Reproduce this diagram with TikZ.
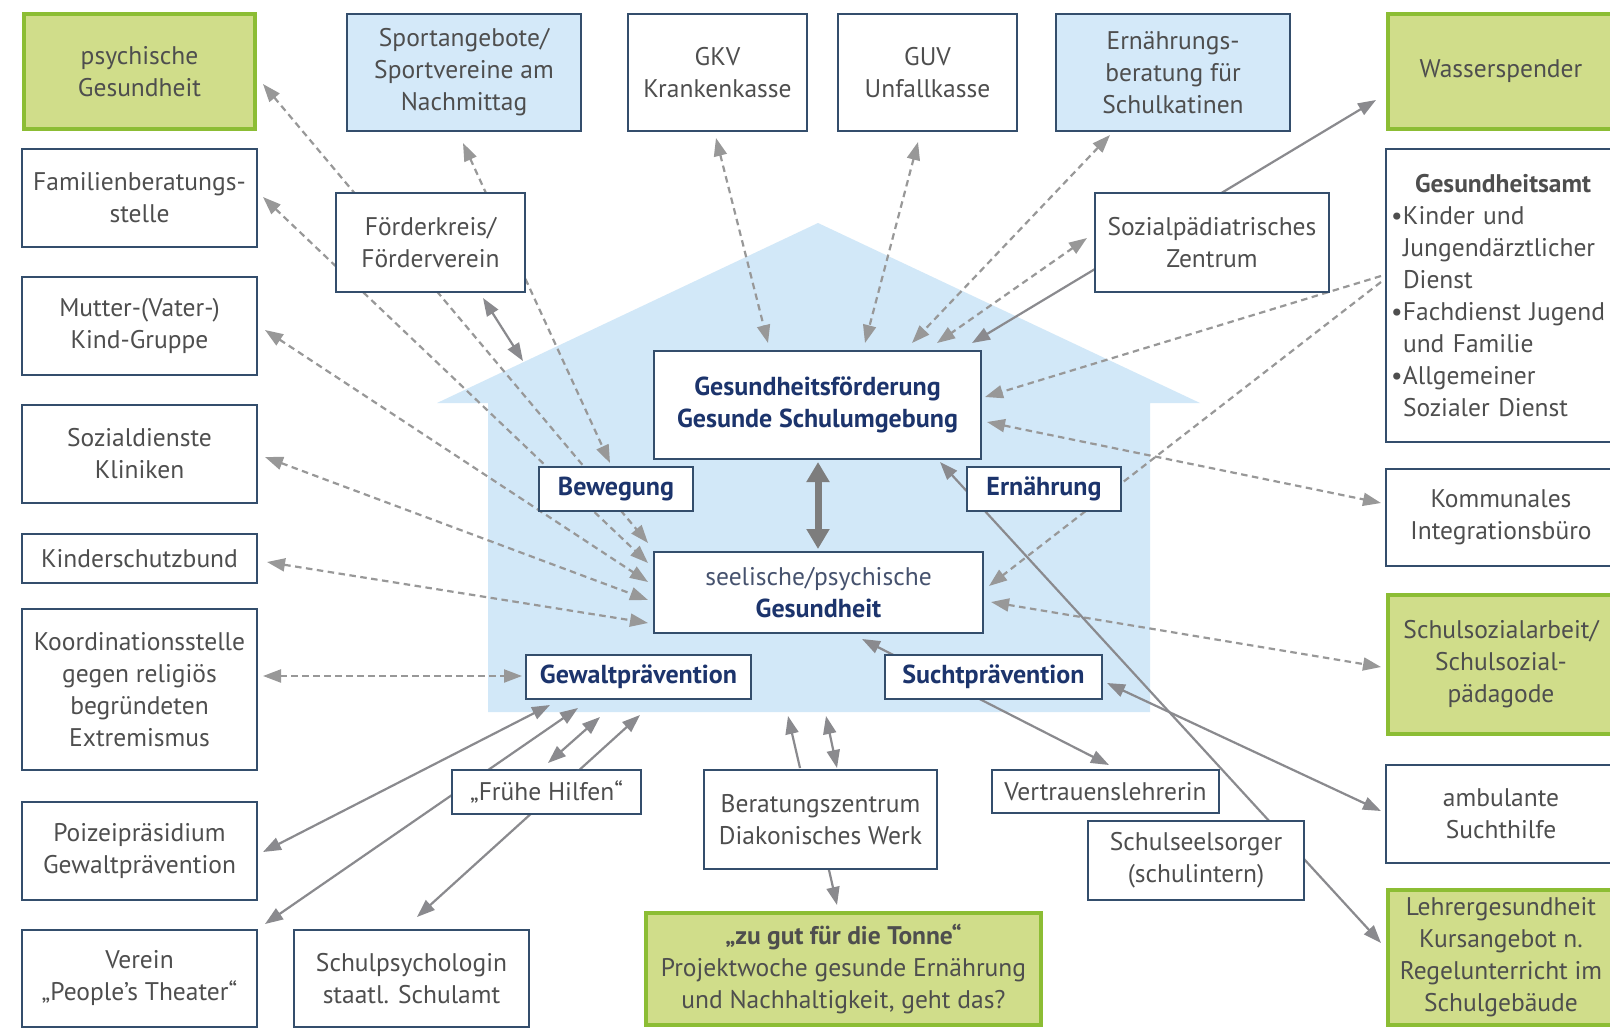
\documentclass[tikz,border=0pt]{standalone}
\usepackage{fontspec}
\setmainfont{PT Sans}
\usetikzlibrary{arrows.meta,calc}
\pgfdeclarelayer{bgw}
\pgfdeclarelayer{house}
\pgfdeclarelayer{lines}
\pgfsetlayers{bgw,house,lines,main}
\definecolor{txt}{RGB}{78,78,78}
\definecolor{navy}{RGB}{28,52,108}
\definecolor{bordc}{RGB}{52,78,108}
\definecolor{boxblue}{RGB}{212,233,249}
\definecolor{housec}{RGB}{210,232,248}
\definecolor{grfill}{RGB}{208,221,138}
\definecolor{grbord}{RGB}{140,189,52}
\definecolor{arrg}{RGB}{152,152,152}
\definecolor{arrs}{RGB}{138,138,142}
\definecolor{arrk}{RGB}{125,125,125}
\definecolor{sgray}{RGB}{70,82,110}
\tikzset{
  tp/.tip={Triangle[length=18pt,width=13pt]},
  tpk/.tip={Triangle[length=20pt,width=22pt]},
  mw/.style={minimum width=#1pt},
  mh/.style={minimum height=#1pt},
  box/.style={draw=bordc, line width=1.4pt, fill=white, text=txt, align=center,
    inner sep=0pt, outer sep=0pt, font=\fontsize{25.5}{32}\selectfont},
  bluebox/.style={box, fill=boxblue},
  greenbox/.style={box, fill=grfill, draw=grbord, line width=4pt},
  innerbox/.style={box, text=navy, font=\fontsize{26}{32}\selectfont\bfseries},
  dsh/.style={draw=arrg, line width=2.2pt, dash pattern=on 6.5pt off 4.5pt},
  sol/.style={draw=arrs, line width=2.2pt},
}
\begin{document}
\begin{tikzpicture}[x=1pt,y=-1pt]
\useasboundingbox (0,0) rectangle (1610,1031);
\begin{pgfonlayer}{bgw}
\fill[white] (0,0) rectangle (1610,1031);
\end{pgfonlayer}

% house
\begin{pgfonlayer}{house}
\fill[housec] (437,403) -- (818,223) -- (1200,403) -- (1150,403) -- (1150,712)
  -- (488,712) -- (488,403) -- cycle;
\end{pgfonlayer}
\coordinate (roofpt) at (523,361);
\coordinate (hb1) at (788,716);
\coordinate (hb2) at (826,716);

% left column
\node[greenbox, mw=231, mh=115] (psy) at (139.5,71.5) {psychische\\Gesundheit};
\node[box, mw=235, mh=98] (fam) at (139.5,198) {Familienberatungs-\\stelle};
\node[box, mw=235, mh=98] (mut) at (139.5,326) {Mutter-(Vater-)\\Kind-Gruppe};
\node[box, mw=235, mh=98] (soz) at (139.5,454) {Sozialdienste\\Kliniken};
\node[box, mw=235, mh=49] (kin) at (139.5,558.5) {Kinderschutzbund};
\node[box, mw=235, mh=161] (koo) at (139.5,689.5) {Koordinationsstelle\\gegen religiös\\begründeten\\Extremismus};
\node[box, mw=235, mh=98] (pol) at (139.5,851) {Poizeipräsidium\\Gewaltprävention};
\node[box, mw=235, mh=97] (ver) at (139.5,978.5) {Verein\\„People’s Theater“};
\node[box, mw=235, mh=97] (spsy) at (411.5,978.5) {Schulpsychologin\\staatl. Schulamt};

% top row
\node[bluebox, mw=234, mh=117] (spo) at (464,72.5) {Sportangebote/\\Sportvereine am\\Nachmittag};
\node[box, mw=179, mh=117] (gkv) at (717.5,72.5) {GKV\\Krankenkasse};
\node[box, mw=179, mh=117] (guv) at (927.5,72.5) {GUV\\Unfallkasse};
\node[bluebox, mw=234, mh=117] (ebe) at (1173,72.5) {Ernährungs-\\beratung für\\Schulkatinen};
\node[greenbox, mw=226, mh=115] (was) at (1501,71.5) {Wasserspender};

% middle
\node[box, mw=189, mh=99] (foe) at (430.5,242.5) {Förderkreis/\\Förderverein};
\node[box, mw=234, mh=99] (szp) at (1212,242.5) {Sozialpädiatrisches\\Zentrum};
\node[innerbox, mw=327, mh=108] (gf) at (817.5,405) {Gesundheitsförderung\\Gesunde Schulumgebung};
\node[innerbox, mw=154, mh=44] (bew) at (616,489) {Bewegung};
\node[innerbox, mw=154, mh=44] (ernh) at (1044,489) {Ernährung};
\node[box, mw=329, mh=81] (see) at (818.5,592.5) {{\color{sgray}seelische/psychische}\\{\color{navy}\fontsize{26}{32}\selectfont\bfseries Gesundheit}};
\node[innerbox, mw=225, mh=44] (gew) at (638.5,677) {Gewaltprävention};
\node[innerbox, mw=217, mh=44] (suc) at (993.5,677) {Suchtprävention};
\node[box, mw=189, mh=44] (fru) at (546.5,792) {„Frühe Hilfen“};
\node[box, mw=233, mh=99] (ber) at (820.5,819.5) {Beratungszentrum\\Diakonisches Werk};
\node[greenbox, mw=395, mh=112] (zug) at (843.5,969) {\textbf{„zu gut für die Tonne“}\\Projektwoche gesunde Ernährung\\und Nachhaltigkeit, geht das?};
\node[box, mw=227, mh=43] (vtl) at (1105.5,791.5) {Vertrauenslehrerin};
\node[box, mw=216, mh=79] (sse) at (1196,860.5) {Schulseelsorger\\(schulintern)};

% right column
\node[box, mw=230, mh=293, align=left, text width=220pt, inner xsep=5pt] (gam) at (1501,295.5)
  {\hspace*{24pt}\textbf{Gesundheitsamt}\\
   \makebox[12pt][l]{\textbullet}Kinder und\\
   \hspace*{12pt}Jungendärztlicher\\
   \hspace*{12pt}Dienst\\
   \makebox[12pt][l]{\textbullet}Fachdienst Jugend\\
   \hspace*{12pt}und Familie\\
   \makebox[12pt][l]{\textbullet}Allgemeiner\\
   \hspace*{12pt}Sozialer Dienst};
\node[box, mw=230, mh=97] (kom) at (1501,517.5) {Kommunales\\Integrationsbüro};
\node[greenbox, mw=226, mh=139] (ssa) at (1501,664.5) {Schulsozialarbeit/\\Schulsozial-\\pädagode};
\node[box, mw=230, mh=98] (amb) at (1501,814) {ambulante\\Suchthilfe};
\node[greenbox, mw=226, mh=135] (leh) at (1501,957.5) {Lehrergesundheit\\Kursangebot n.\\Regelunterricht im\\Schulgebäude};

% connectors
\begin{pgfonlayer}{lines}
\draw[dsh, tp-tp] ($(psy.east)+(8,12.5)$) -- ($(see.north west)+(-6,-9)$);
\draw[dsh, tp-tp] ($(fam.east)+(6,-1)$) -- ($(see.north west)+(-6,11)$);
\draw[dsh, tp-tp] ($(mut.east)+(8,4)$) -- ($(see.north west)+(-6,30)$);
\draw[dsh, tp-tp] ($(soz.east)+(8,3)$) -- ($(see.north west)+(-6,48)$);
\draw[dsh, tp-tp] ($(kin.east)+(10,3.5)$) -- ($(see.north west)+(-6,71)$);
\draw[dsh, tp-tp] ($(koo.east)+(6,-13.5)$) -- ($(gew.west)+(-4,-1)$);
\draw[dsh, tp-tp] ($(spo.south)+(-1,12)$) -- ($(bew.north)+(-6,-4)$);
\draw[sol, tp-tp] ($(foe.south)+(52.5,6)$) -- (roofpt);
\draw[dsh, tp-tp] ($(gkv.south)+(-1.5,7)$) -- ($(gf.north)+(-49.5,-8)$);
\draw[dsh, tp-tp] ($(guv.south)+(-9.5,11)$) -- ($(gf.north)+(47.5,-8)$);
\draw[dsh, tp-tp] ($(ebe.south)+(-63,4)$) -- ($(gf.north)+(94.5,-8)$);
\draw[dsh, tp-tp] ($(szp.west)+(-8,-4.5)$) -- ($(gf.north)+(119.5,-8)$);
\draw[sol, tp-tp] ($(was.west)+(-12,28.5)$) -- ($(gf.north east)+(-9,-8)$);
\draw[dsh, -tp] ($(gam.west)+(-5,-19.5)$) -- ($(gf.east)+(4,-8)$);
\draw[dsh, -tp] ($(gam.west)+(-5,-13.5)$) -- ($(see.east)+(6,-6.5)$);
\draw[dsh, tp-tp] ($(gf.east)+(6,17)$) -- ($(kom.west)+(-5,-14.5)$);
\draw[dsh, tp-tp] ($(see.east)+(8,9.5)$) -- ($(ssa.west)+(-7,2.5)$);
\draw[sol, tp-tp] ($(suc.east)+(5,6)$) -- ($(amb.west)+(-5,-3)$);
\draw[sol, tp-tp] ($(gf.south)+(122.5,3)$) -- ($(leh.west)+(-7,-14.5)$);
\draw[sol, tp-tp] ($(see.south)+(43.5,6)$) -- ($(vtl.north)+(3.5,-5)$);
\draw[sol, tp-tp] ($(gew.south)+(-88.5,6)$) -- ($(pol.east)+(6,1)$);
\draw[sol, tp-tp] ($(gew.south)+(-60.5,9)$) -- ($(ver.north east)+(8,-6)$);
\draw[sol, tp-tp] ($(gew.south)+(-38.5,18)$) -- ($(fru.north)+(1.5,-7)$);
\draw[sol, tp-tp] ($(gew.south)+(1.5,16)$) -- ($(spsy.north)+(5.5,-13)$);
\draw[sol, -tp] ($(ber.north)+(-20.5,-2)$) -- (hb1);
\draw[sol, tp-tp] ($(ber.north)+(16.5,-2)$) -- (hb2);
\draw[sol, -tp] ($(ber.south)+(8.5,1)$) -- ($(zug.north)+(-6.5,-8)$);
\draw[draw=arrk, line width=7pt, tpk-tpk] ($(gf.south)+(0.5,3)$) -- ($(see.north)+(-0.5,-3)$);
\end{pgfonlayer}
\end{tikzpicture}
\end{document}
